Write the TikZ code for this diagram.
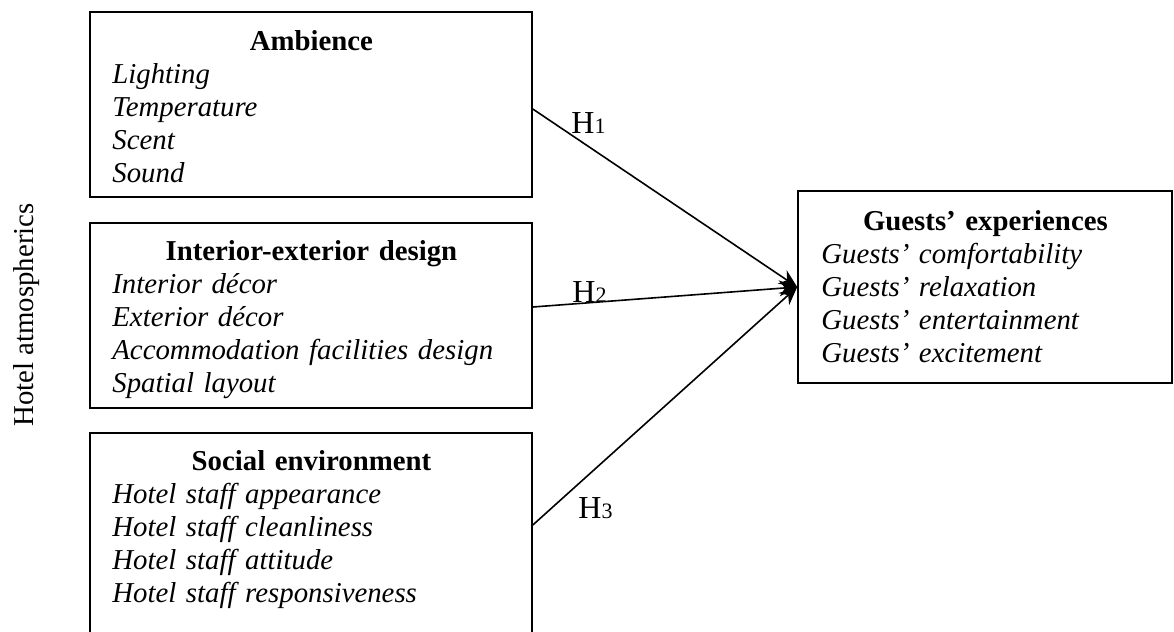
\documentclass[tikz,border=0pt]{standalone}
\usepackage{fontspec}
\setmainfont{Liberation Serif}
\usetikzlibrary{arrows.meta}

\tikzset{
  factorbox/.style={draw, line width=0.8pt, inner sep=0pt, minimum width=221pt, minimum height=92.5pt},
  itemlist/.style={anchor=base west, inner sep=0pt, text width=199pt, align=left,
    font=\fontsize{14.4}{16.5}\selectfont},
  hyp/.style={line width=0.8pt, -{Stealth[length=9pt,width=8pt]}},
  hlabel/.style={anchor=base west, inner sep=0pt, font=\fontsize{16}{16}\selectfont}
}
\newcommand{\hsub}[1]{{\fontsize{11}{11}\selectfont #1}}

\begin{document}
\begin{tikzpicture}[x=0.5pt, y=-0.5pt]
		\useasboundingbox (0,0) rectangle (1174,632);
		\node[factorbox] (ambience) at (311,104.5) {};
		\node[factorbox] (design) at (311,315.5) {};
		\node[factorbox, minimum height=101.5pt] (social) at (311,534.5) {};
		\node[factorbox, minimum width=187pt, minimum height=96pt] (guests) at (985,287) {};
		\node[itemlist] (ambience-list) at (112,50) {\makebox[\linewidth]{\bfseries Ambience}\\ \itshape Lighting\\ Temperature\\ Scent\\ Sound};
		\node[itemlist] (design-list) at (112,260) {\makebox[\linewidth]{\bfseries Interior-exterior design}\\ \itshape Interior décor\\ Exterior décor\\ Accommodation facilities design\\ Spatial layout};
		\node[itemlist] (social-list) at (112,470) {\makebox[\linewidth]{\bfseries Social environment}\\ \itshape Hotel staff appearance\\ Hotel staff cleanliness\\ Hotel staff attitude\\ Hotel staff responsiveness};
		\node[itemlist, text width=164pt] (guests-list) at (821,230) {\makebox[\linewidth]{\bfseries Guests’ experiences}\\ \itshape Guests’ comfortability\\ Guests’ relaxation\\ Guests’ entertainment\\ Guests’ excitement};
		\node[anchor=base, rotate=90, inner sep=0pt, font=\fontsize{14.4}{16.5}\selectfont] (atmospherics) at (33,315) {Hotel atmospherics};
		\draw[hyp] ([yshift=-2.25pt]ambience.east) -- (guests.west);
		\draw[hyp] ([yshift=4.25pt]design.east) -- (guests.west);
		\draw[hyp] ([yshift=4.75pt]social.east) -- (guests.west);
		\node[hlabel] (h1) at (571,133) {H\hsub{1}};
		\node[hlabel] (h2) at (572,302) {H\hsub{2}};
		\node[hlabel] (h3) at (578,518) {H\hsub{3}};
\end{tikzpicture}
\end{document}
